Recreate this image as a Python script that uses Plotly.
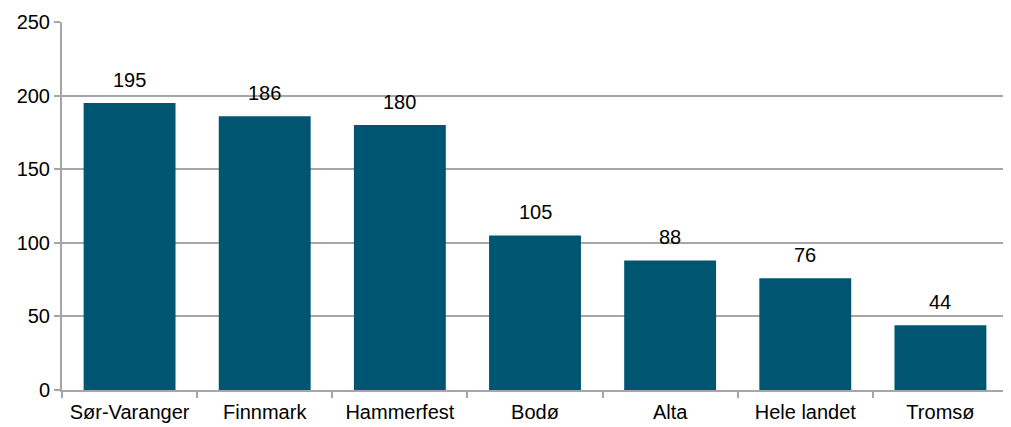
import plotly.graph_objects as go

places = ["Sør-Varanger", "Finnmark", "Hammerfest", "Bodø", "Alta", "Hele landet", "Tromsø"]
values = [195, 186, 180, 105, 88, 76, 44]

bar_color = "#005670"
grid_color = "#A6A6A6"
font = dict(family="Liberation Sans, Arial, sans-serif", size=20, color="#000000")

fig = go.Figure(go.Bar(x=places, y=values, marker=dict(color=bar_color, line=dict(width=0)),
                       width=0.68, hoverinfo="x+y"))

# value labels above the bars
for p, v in zip(places, values):
    fig.add_annotation(x=p, y=v, text=str(v), showarrow=False, yanchor="bottom",
                       yshift=10, font=font)

# page body has an 8px margin, so the figure is a bit smaller than the window
fig.update_layout(
    width=1003, height=419,
    margin=dict(l=54, r=3, t=12, b=37),
    paper_bgcolor="white", plot_bgcolor="white",
    font=font, showlegend=False, bargap=0.32,
)
fig.update_xaxes(showline=True, linecolor=grid_color, linewidth=2,
                 ticks="outside", ticklen=6, tickcolor=grid_color, tickwidth=2,
                 tickson="boundaries", showgrid=False, ticklabelstandoff=3)
fig.update_yaxes(range=[0, 250], dtick=50, showline=True, linecolor=grid_color, linewidth=2,
                 ticks="outside", ticklen=6, tickcolor=grid_color, tickwidth=2,
                 gridcolor=grid_color, gridwidth=1.5, zeroline=False)

fig.write_html("out.html")
